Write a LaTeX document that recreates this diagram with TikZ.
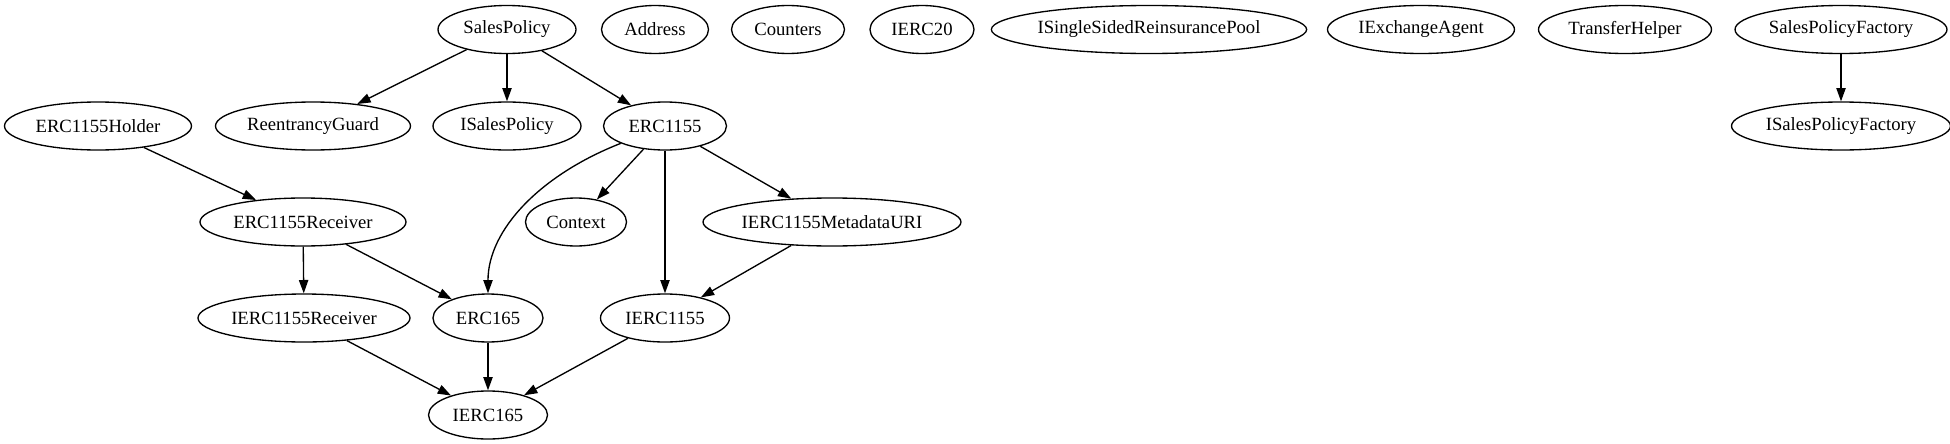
\documentclass[tikz,border=0pt]{standalone}
\usepackage{fontspec}
\setmainfont{Liberation Serif}
\usetikzlibrary{arrows.meta,shapes.geometric}
\begin{document}
\begin{tikzpicture}[x=0.75pt,y=-0.75pt,
  cls/.style={draw,ellipse,line width=1pt,inner sep=0pt,minimum height=36pt,font=\fontsize{14pt}{16pt}\selectfont},
  dep/.style={draw,line width=1pt,-{Triangle[length=10pt,width=7pt]}}]
\useasboundingbox (0,0) rectangle (1950,443);
% row 0
\node[cls,minimum width=138*0.75pt] (sp) at (507,29.5) {SalesPolicy};
\node[cls,minimum width=107*0.75pt] (addr) at (655,29.5) {Address};
\node[cls,minimum width=113*0.75pt] (cnt) at (788,29.5) {Counters};
\node[cls,minimum width=104*0.75pt] (ierc20) at (922,29.5) {IERC20};
\node[cls,minimum width=311*0.75pt] (issrp) at (1149,29.5) {ISingleSidedReinsurancePool};
\node[cls,minimum width=187*0.75pt] (iea) at (1421,29.5) {IExchangeAgent};
\node[cls,minimum width=173*0.75pt] (th) at (1625,29.5) {TransferHelper};
\node[cls,minimum width=212*0.75pt] (spf) at (1841,29.5) {SalesPolicyFactory};
% row 1
\node[cls,minimum width=187*0.75pt] (holder) at (98,126) {ERC1155Holder};
\node[cls,minimum width=195*0.75pt] (rg) at (313,126) {ReentrancyGuard};
\node[cls,minimum width=148*0.75pt] (isp) at (507,126) {ISalesPolicy};
\node[cls,minimum width=123*0.75pt] (erc1155) at (665,126) {ERC1155};
\node[cls,minimum width=219*0.75pt] (ispf) at (1841,126) {ISalesPolicyFactory};
% row 2
\node[cls,minimum width=206*0.75pt] (recv) at (303,222) {ERC1155Receiver};
\node[cls,minimum width=101*0.75pt] (ctx) at (576,222) {Context};
\node[cls,minimum width=258*0.75pt] (meta) at (832,222) {IERC1155MetadataURI};
% row 3
\node[cls,minimum width=212*0.75pt] (irecv) at (304,318) {IERC1155Receiver};
\node[cls,minimum width=110*0.75pt] (erc165) at (488,318) {ERC165};
\node[cls,minimum width=129*0.75pt] (ierc1155) at (665,318) {IERC1155};
% row 4
\node[cls,minimum width=119*0.75pt] (ierc165) at (488,415) {IERC165};
% edges
\draw[dep] (sp) -- (rg);
\draw[dep] (sp) -- (isp);
\draw[dep] (sp) -- (erc1155);
\draw[dep] (spf) -- (ispf);
\draw[dep] (holder) -- (recv);
\draw[dep] (erc1155) .. controls (540,175) and (488,230) .. (erc165);
\draw[dep] (erc1155) -- (ctx);
\draw[dep] (erc1155) -- (ierc1155);
\draw[dep] (erc1155) -- (meta);
\draw[dep] (recv) -- (irecv);
\draw[dep] (recv) -- (erc165);
\draw[dep] (meta) -- (ierc1155);
\draw[dep] (irecv) -- (ierc165);
\draw[dep] (erc165) -- (ierc165);
\draw[dep] (ierc1155) -- (ierc165);
\end{tikzpicture}
\end{document}
